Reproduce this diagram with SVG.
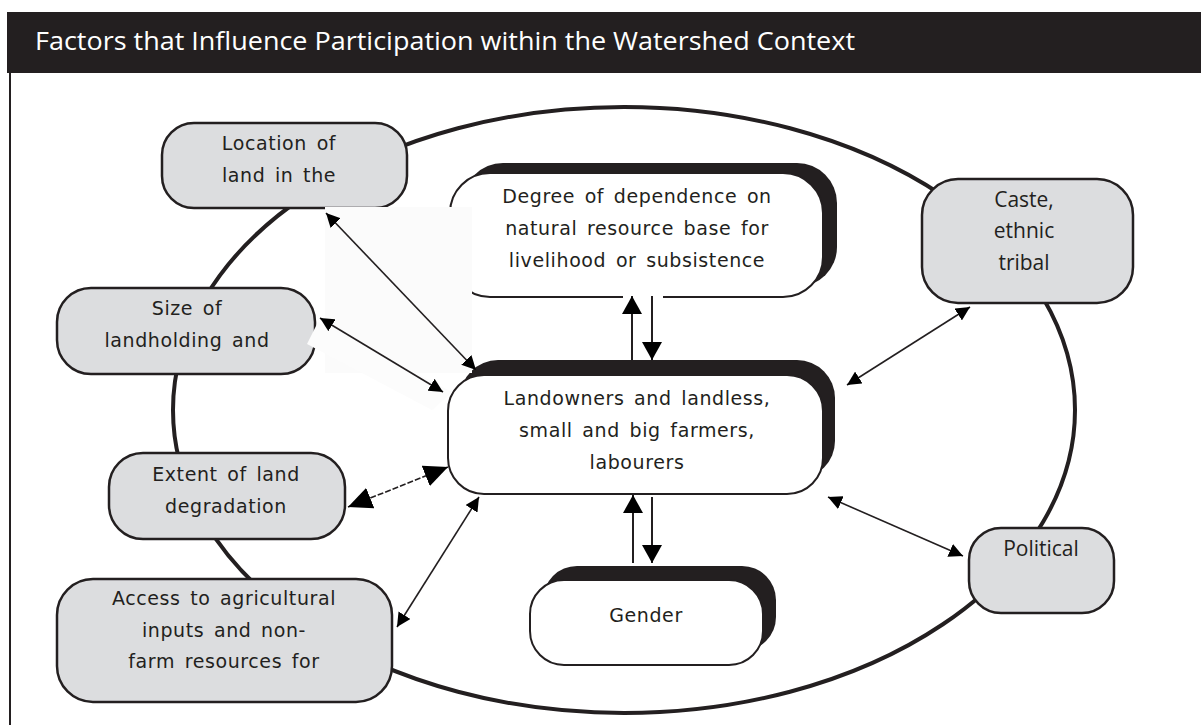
<svg xmlns="http://www.w3.org/2000/svg" width="1201" height="725" viewBox="0 0 1201 725">
<style>
.gbox{fill:#dcdddf;stroke:#231f20;stroke-width:2.5}
.wbox{fill:#ffffff;stroke:#231f20;stroke-width:2}
.shadow{fill:#231f20}
.t{font-family:"DejaVu Sans",sans-serif;font-size:19px;fill:#231f20;text-anchor:middle;letter-spacing:0.6px;word-spacing:3px}
.m{font-family:"Open Sans","Noto Sans",sans-serif;font-size:21px;fill:#231f20;text-anchor:middle}
.dl{fill:none;stroke:#231f20;stroke-width:1.6}
.vl{fill:none;stroke:#231f20;stroke-width:2}
</style>
<defs>
<marker id="hv" viewBox="0 0 18 20" refX="18" refY="10" markerWidth="18" markerHeight="20" markerUnits="userSpaceOnUse" orient="auto"><path d="M0,0 L18,10 L0,20 Z" fill="#000"/></marker>
<marker id="hs" viewBox="0 0 14 14" refX="14" refY="7" markerWidth="14" markerHeight="14" markerUnits="userSpaceOnUse" orient="auto-start-reverse"><path d="M0,0 L14,7 L0,14 Z" fill="#000"/></marker>
<marker id="hl" viewBox="0 0 24 22" refX="24" refY="11" markerWidth="24" markerHeight="22" markerUnits="userSpaceOnUse" orient="auto-start-reverse"><path d="M0,0 L24,11 L0,22 Z" fill="#000"/></marker>
</defs>
<rect x="0" y="0" width="1201" height="725" fill="#ffffff"/>
<g id="title">
<rect x="7" y="12" width="1194" height="61" fill="#231f20"/>
<text x="35" y="50" font-family="'Open Sans','Noto Sans',sans-serif" font-size="25" fill="#ffffff" textLength="820" lengthAdjust="spacingAndGlyphs">Factors that Influence Participation within the Watershed Context</text>
</g>
<line x1="10" y1="73" x2="10" y2="725" stroke="#231f20" stroke-width="2"/>
<g id="ring">
<ellipse cx="624" cy="410" rx="451" ry="303" fill="none" stroke="#231f20" stroke-width="4"/>
</g>
<g id="node-location">
<rect class="gbox" x="162" y="123" width="245" height="85" rx="32"/>
<text class="t" x="279" y="150">Location of</text>
<text class="t" x="279" y="182">land in the</text>
</g>
<g id="node-size">
<rect class="gbox" x="57" y="288" width="258" height="86" rx="34"/>
<text class="t" x="187" y="315">Size of</text>
<text class="t" x="187" y="347">landholding and</text>
</g>
<g id="node-extent">
<rect class="gbox" x="109" y="453" width="236" height="86" rx="34"/>
<text class="t" x="226" y="481">Extent of land</text>
<text class="t" x="226" y="513">degradation</text>
</g>
<g id="node-access">
<rect class="gbox" x="57" y="579" width="335" height="123" rx="36"/>
<text class="t" x="224" y="605">Access to agricultural</text>
<text class="t" x="224" y="637">inputs and non-</text>
<text class="t" x="224" y="668">farm resources for</text>
</g>
<g id="node-caste">
<rect class="gbox" x="922" y="179" width="211" height="124" rx="36"/>
<text class="m" x="1024" y="207">Caste,</text>
<text class="m" x="1024" y="238">ethnic</text>
<text class="m" x="1024" y="270">tribal</text>
</g>
<g id="node-political">
<rect class="gbox" x="969" y="528" width="145" height="85" rx="32"/>
<text class="m" x="1041" y="556">Political</text>
</g>
<g id="node-degree">
<rect class="shadow" x="463" y="163" width="374" height="124" rx="40"/>
<rect class="wbox" x="450" y="173" width="373" height="124" rx="40"/>
<text class="t" x="637" y="203">Degree of dependence on</text>
<text class="t" x="637" y="235">natural resource base for</text>
<text class="t" x="637" y="267">livelihood or subsistence</text>
</g>
<g id="node-landowners">
<rect class="shadow" x="460" y="360" width="375" height="119" rx="38"/>
<rect class="wbox" x="448" y="375" width="375" height="119" rx="36"/>
<text class="t" x="637" y="405">Landowners and landless,</text>
<text class="t" x="637" y="437">small and big farmers,</text>
<text class="t" x="637" y="469">labourers</text>
</g>
<g id="node-gender">
<rect class="shadow" x="543" y="566" width="233" height="85" rx="34"/>
<rect class="wbox" x="530" y="580" width="233" height="85" rx="34"/>
<text class="t" x="646" y="622">Gender</text>
</g>
<g id="backgrounds">
<rect x="325" y="207" width="147" height="166" fill="#fbfbfb"/>
<polygon points="318,322 307,344 432,410 452,392" fill="#fcfcfc"/>
<rect x="623" y="292" width="40" height="7" fill="#ffffff"/>
</g>
<g id="connectors">
<line class="vl" x1="632" y1="360" x2="632" y2="296" marker-end="url(#hv)"/>
<line class="vl" x1="652" y1="296" x2="652" y2="360" marker-end="url(#hv)"/>
<line class="vl" x1="633" y1="563" x2="633" y2="495" marker-end="url(#hv)"/>
<line class="vl" x1="652" y1="497" x2="652" y2="563" marker-end="url(#hv)"/>
<line class="dl" x1="326" y1="213" x2="476" y2="370" marker-start="url(#hs)" marker-end="url(#hs)"/>
<line class="dl" x1="320" y1="318" x2="443" y2="392" marker-start="url(#hs)" marker-end="url(#hs)"/>
<line class="dl" x1="348" y1="507" x2="448" y2="467" stroke-dasharray="6,2" marker-start="url(#hl)" marker-end="url(#hl)"/>
<line class="dl" x1="397" y1="627" x2="479" y2="497" marker-start="url(#hs)" marker-end="url(#hs)"/>
<line class="dl" x1="847" y1="385" x2="970" y2="307" marker-start="url(#hs)" marker-end="url(#hs)"/>
<line class="dl" x1="828" y1="497" x2="963" y2="556" marker-start="url(#hs)" marker-end="url(#hs)"/>
</g>
</svg>
